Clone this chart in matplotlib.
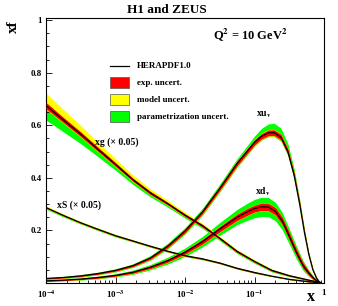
import numpy as np
import matplotlib
matplotlib.use("Agg")
import matplotlib.pyplot as plt
from matplotlib.lines import Line2D
from matplotlib.patches import Rectangle

plt.rcParams['font.family'] = ['Liberation Serif', 'DejaVu Serif']
plt.rcParams['font.weight'] = 'bold'
plt.rcParams['mathtext.fontset'] = 'stix'

# ---------------- data (log10 x, central values, band half-widths) -------------
xg_logx = [-4.0, -3.75, -3.5, -3.25, -3.0, -2.75, -2.5, -2.25, -2.0, -1.75, -1.5, -1.25, -1.0, -0.75, -0.5, -0.25, -0.1, -0.04]
xg_c    = [0.675, 0.620, 0.566, 0.508, 0.451, 0.393, 0.343, 0.302, 0.258, 0.218, 0.170, 0.120, 0.082, 0.048, 0.028, 0.013, 0.004, 0.0]
xg_exp  = [0.012, 0.010, 0.009, 0.008, 0.007, 0.006, 0.006, 0.005, 0.005, 0.005, 0.004, 0.004, 0.003, 0.003, 0.002, 0.002, 0.001, 0.0]
xg_mup  = [0.048, 0.040, 0.033, 0.027, 0.022, 0.018, 0.015, 0.013, 0.011, 0.009, 0.008, 0.007, 0.006, 0.005, 0.004, 0.003, 0.001, 0.0]
xg_mdn  = [0.014, 0.012, 0.011, 0.010, 0.009, 0.008, 0.007, 0.007, 0.006, 0.006, 0.005, 0.005, 0.004, 0.003, 0.002, 0.002, 0.001, 0.0]
xg_pup  = [0.016, 0.014, 0.012, 0.011, 0.010, 0.009, 0.008, 0.008, 0.007, 0.007, 0.006, 0.006, 0.005, 0.004, 0.003, 0.002, 0.001, 0.0]
xg_pdn  = [0.055, 0.045, 0.036, 0.028, 0.022, 0.018, 0.015, 0.013, 0.011, 0.010, 0.009, 0.008, 0.007, 0.006, 0.004, 0.003, 0.001, 0.0]

xs_logx = [-4.0, -3.75, -3.5, -3.25, -3.0, -2.75, -2.5, -2.25, -2.0, -1.75, -1.5, -1.25, -1.0, -0.75, -0.5, -0.25, -0.04]
xs_c    = [0.287, 0.257, 0.229, 0.204, 0.180, 0.160, 0.140, 0.121, 0.104, 0.092, 0.076, 0.056, 0.040, 0.026, 0.014, 0.006, 0.0]
xs_exp  = [0.002, 0.002, 0.002, 0.002, 0.002, 0.002, 0.002, 0.002, 0.002, 0.002, 0.002, 0.002, 0.002, 0.001, 0.001, 0.001, 0.0]
xs_mup  = [0.007, 0.006, 0.006, 0.005, 0.005, 0.004, 0.004, 0.004, 0.003, 0.003, 0.003, 0.003, 0.002, 0.002, 0.001, 0.001, 0.0]
xs_mdn  = [0.003, 0.003, 0.003, 0.003, 0.003, 0.003, 0.003, 0.003, 0.003, 0.003, 0.002, 0.002, 0.002, 0.002, 0.001, 0.001, 0.0]
xs_pup  = [0.004, 0.004, 0.004, 0.004, 0.004, 0.004, 0.003, 0.003, 0.003, 0.003, 0.003, 0.003, 0.003, 0.002, 0.002, 0.001, 0.0]
xs_pdn  = [0.006, 0.006, 0.005, 0.005, 0.005, 0.004, 0.004, 0.004, 0.004, 0.004, 0.003, 0.003, 0.003, 0.002, 0.002, 0.001, 0.0]

xu_logx = [-4.0, -3.75, -3.5, -3.25, -3.0, -2.75, -2.5, -2.25, -2.0, -1.75, -1.5, -1.25, -1.0, -0.9, -0.8, -0.72, -0.62, -0.52, -0.43, -0.35, -0.28, -0.22, -0.16, -0.11, -0.07, -0.04]
xu_c    = [0.017, 0.021, 0.027, 0.036, 0.048, 0.066, 0.095, 0.140, 0.198, 0.270, 0.360, 0.455, 0.535, 0.558, 0.571, 0.572, 0.555, 0.500, 0.410, 0.300, 0.190, 0.110, 0.050, 0.020, 0.005, 0.0]
xu_exp  = [0.002, 0.002, 0.002, 0.003, 0.003, 0.004, 0.005, 0.006, 0.007, 0.007, 0.008, 0.009, 0.010, 0.010, 0.011, 0.011, 0.011, 0.011, 0.010, 0.009, 0.007, 0.005, 0.003, 0.002, 0.001, 0.0]
xu_mup  = [0.003, 0.003, 0.003, 0.004, 0.004, 0.005, 0.006, 0.007, 0.008, 0.009, 0.010, 0.011, 0.012, 0.012, 0.013, 0.013, 0.013, 0.013, 0.012, 0.011, 0.009, 0.007, 0.005, 0.003, 0.002, 0.0]
xu_mdn  = [0.003, 0.003, 0.003, 0.004, 0.004, 0.005, 0.006, 0.007, 0.008, 0.009, 0.010, 0.011, 0.012, 0.012, 0.013, 0.013, 0.013, 0.013, 0.012, 0.011, 0.009, 0.007, 0.005, 0.003, 0.002, 0.0]
xu_pup  = [0.004, 0.004, 0.005, 0.005, 0.006, 0.007, 0.009, 0.011, 0.013, 0.014, 0.016, 0.018, 0.024, 0.030, 0.034, 0.036, 0.034, 0.030, 0.024, 0.018, 0.013, 0.009, 0.006, 0.004, 0.002, 0.0]
xu_pdn  = [0.004, 0.004, 0.005, 0.005, 0.006, 0.007, 0.009, 0.011, 0.012, 0.013, 0.014, 0.015, 0.015, 0.015, 0.015, 0.015, 0.016, 0.016, 0.015, 0.013, 0.010, 0.008, 0.005, 0.003, 0.002, 0.0]

xd_logx = [-4.0, -3.75, -3.5, -3.25, -3.0, -2.75, -2.5, -2.25, -2.0, -1.75, -1.5, -1.25, -1.1, -1.0, -0.9, -0.8, -0.7, -0.6, -0.5, -0.4, -0.3, -0.22, -0.15, -0.09, -0.04]
xd_c    = [0.008, 0.011, 0.015, 0.021, 0.029, 0.041, 0.060, 0.085, 0.117, 0.157, 0.205, 0.250, 0.271, 0.283, 0.290, 0.289, 0.273, 0.236, 0.178, 0.118, 0.066, 0.038, 0.018, 0.006, 0.0]
xd_exp  = [0.002, 0.002, 0.002, 0.003, 0.003, 0.004, 0.005, 0.006, 0.007, 0.009, 0.010, 0.012, 0.013, 0.013, 0.014, 0.014, 0.014, 0.014, 0.014, 0.013, 0.011, 0.008, 0.005, 0.003, 0.0]
xd_mup  = [0.003, 0.003, 0.003, 0.004, 0.004, 0.005, 0.006, 0.007, 0.008, 0.010, 0.011, 0.013, 0.014, 0.014, 0.015, 0.015, 0.015, 0.015, 0.015, 0.014, 0.012, 0.009, 0.006, 0.003, 0.0]
xd_mdn  = [0.003, 0.003, 0.003, 0.004, 0.004, 0.005, 0.006, 0.007, 0.008, 0.010, 0.011, 0.013, 0.014, 0.014, 0.015, 0.015, 0.015, 0.015, 0.015, 0.014, 0.012, 0.009, 0.006, 0.003, 0.0]
xd_pup  = [0.003, 0.003, 0.004, 0.005, 0.006, 0.008, 0.010, 0.013, 0.016, 0.020, 0.025, 0.030, 0.033, 0.035, 0.036, 0.036, 0.034, 0.032, 0.028, 0.024, 0.018, 0.012, 0.007, 0.003, 0.0]
xd_pdn  = [0.003, 0.003, 0.004, 0.005, 0.006, 0.008, 0.010, 0.013, 0.016, 0.020, 0.024, 0.028, 0.032, 0.035, 0.037, 0.037, 0.036, 0.034, 0.030, 0.025, 0.019, 0.013, 0.008, 0.004, 0.0]

curve_labels = ["xg (\u00d7 0.05)", "xS (\u00d7 0.05)", "xu$_\\mathbf{v}$", "xd$_\\mathbf{v}$"]
legend_labels = ["HERAPDF1.0", "exp. uncert.", "model uncert.", "parametrization uncert."]
xtick_vals = [1e-4, 1e-3, 1e-2, 1e-1, 1]
xtick_labels = ["10$^{\\mathbf{-4}}$", "10$^{\\mathbf{-3}}$", "10$^{\\mathbf{-2}}$", "10$^{\\mathbf{-1}}$", "1"]
ytick_vals = [0.2, 0.4, 0.6, 0.8, 1.0]
ytick_labels = ["0.2", "0.4", "0.6", "0.8", "1"]

RED = '#ff0000'
YEL = '#ffff00'
GRN = '#00ff00'

W, H = 338, 306
fig = plt.figure(figsize=(W/100, H/100), dpi=100)
ax = fig.add_axes([46/W, 1-283/H, (324-46)/W, (283-18)/H])

def draw(logx, c, e, mu, md, pu, pd):
    x = 10**np.asarray(logx)
    c = np.asarray(c); e = np.asarray(e)
    mu = np.asarray(mu); md = np.asarray(md)
    pu = np.asarray(pu); pd = np.asarray(pd)
    ax.fill_between(x, c - pd, c + pu, color=GRN, lw=0, zorder=1)
    ax.fill_between(x, c - md, c + mu, color=YEL, lw=0, zorder=2)
    ax.fill_between(x, c - e, c + e, color=RED, lw=0, zorder=3)
    ax.plot(x, c, color='black', lw=0.9, zorder=4, solid_joinstyle='round')

draw(xg_logx, xg_c, xg_exp, xg_mup, xg_mdn, xg_pup, xg_pdn)
draw(xs_logx, xs_c, xs_exp, xs_mup, xs_mdn, xs_pup, xs_pdn)
draw(xu_logx, xu_c, xu_exp, xu_mup, xu_mdn, xu_pup, xu_pdn)
draw(xd_logx, xd_c, xd_exp, xd_mup, xd_mdn, xd_pup, xd_pdn)

ax.set_xscale('log')
ax.set_xlim(1e-4, 1)
ax.set_ylim(0, 1.008)
ax.set_xticks(xtick_vals)
ax.set_xticklabels(xtick_labels, fontsize=6.5, fontweight='bold')
ax.set_yticks(ytick_vals)
ax.set_yticklabels(ytick_labels, fontsize=6.5, fontweight='bold')
ax.set_yticks(np.arange(0.05, 1.0, 0.05), minor=True)
ax.tick_params(which='both', direction='in', top=False, right=False)
ax.tick_params(which='major', length=4, width=0.6, pad=3)
ax.tick_params(which='minor', length=2, width=0.6)
ax.tick_params(axis='x', which='major', pad=4)
for s in ax.spines.values():
    s.set_linewidth(0.8)

def fx(px):
    return px / W
def fy(py):
    return 1 - py / H

fig.text(fx(167), fy(10), "H1 and ZEUS", ha='center', va='center', fontsize=9.5, fontweight='bold')
fig.text(fx(13), fy(27), "xf", ha='center', va='center', fontsize=11, fontweight='bold', rotation=90)
fig.text(fx(311), fy(297), "x", ha='center', va='center', fontsize=11.5, fontweight='bold')
fig.text(fx(213), fy(35), "Q$^\\mathbf{2}$ = 10 GeV$^\\mathbf{2}$", ha='left', va='center', fontsize=9, fontweight='bold')

# legend
fig.add_artist(Line2D([fx(110), fx(129)], [fy(66), fy(66)], color='black', lw=0.9))
for (y0, y1, col) in [(77, 88, RED), (94, 105, YEL), (111, 122, GRN)]:
    fig.add_artist(Rectangle((fx(110), fy(y1)), fx(129) - fx(110), fy(y0) - fy(y1),
                             facecolor=col, edgecolor='#555555', lw=0.5))
for lab, yy in zip(legend_labels, [66, 83, 100, 117]):
    fig.text(fx(137), fy(yy), lab, ha='left', va='center', fontsize=6.5, fontweight='bold')

# curve labels
fig.text(fx(95), fy(142), curve_labels[0], ha='left', va='center', fontsize=7, fontweight='bold')
fig.text(fx(57), fy(205), curve_labels[1], ha='left', va='center', fontsize=7, fontweight='bold')
fig.text(fx(256), fy(115), curve_labels[2], ha='left', va='center', fontsize=7, fontweight='bold')
fig.text(fx(255), fy(192), curve_labels[3], ha='left', va='center', fontsize=7, fontweight='bold')

fig.savefig("out.png", dpi=100)
